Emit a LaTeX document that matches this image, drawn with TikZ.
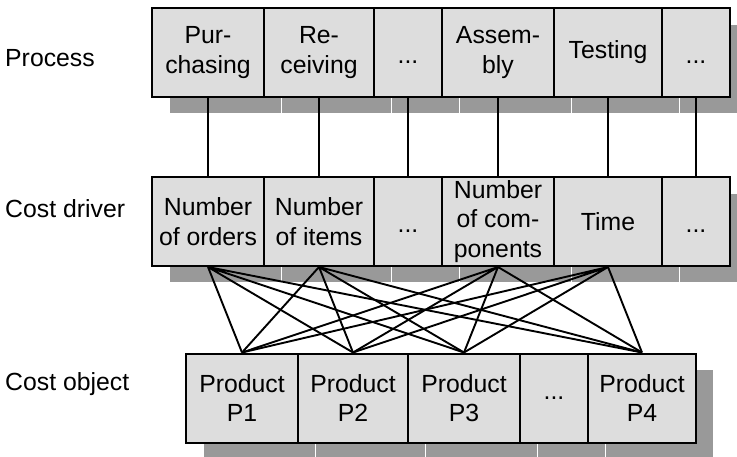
\documentclass[tikz,border=0pt]{standalone}
\usepackage{fontspec}
\setmainfont{Liberation Sans}
\definecolor{cellgray}{HTML}{DDDDDD}
\definecolor{shadegray}{HTML}{999999}
\newcommand{\lowdots}{\smash{\raisebox{-11pt}{...}}}

\begin{document}
\begin{tikzpicture}[x=1pt,y=-1pt,
    font=\fontsize{24.8}{29.3}\selectfont,
    cell/.style={draw,line width=2pt,fill=cellgray,align=center,
        inner sep=0pt,minimum height=89pt,
        preaction={draw=white,line width=1pt,fill=shadegray,
            transform canvas={shift={(17pt,-16pt)}}}},
    rowlabel/.style={anchor=base west,inner sep=0pt},
    link/.style={line width=1.9pt}]
    \useasboundingbox (0,0) rectangle (737,456);

    \node[rowlabel] (lproc) at (5,66) {Process};
    \node[rowlabel] (ldriver) at (5,217) {Cost driver};
    \node[rowlabel] (lobject) at (5,390) {Cost object};

    \node[cell,minimum width=112pt] (p1) at (208,52.5) {Pur-\\chasing};
    \node[cell,minimum width=110pt] (p2) at (319,52.5) {Re-\\ceiving};
    \node[cell,minimum width=68pt] (p3) at (408,52.5) {\lowdots};
    \node[cell,minimum width=112pt] (p4) at (498,52.5) {Assem-\\bly};
    \node[cell,minimum width=108pt] (p5) at (608,52.5) {Testing};
    \node[cell,minimum width=68pt] (p6) at (696,52.5) {\lowdots};

    \node[cell,minimum width=112pt] (d1) at (208,221.5)
        {Number\\of orders};
    \node[cell,minimum width=110pt] (d2) at (319,221.5)
        {Number\\of items};
    \node[cell,minimum width=68pt] (d3) at (408,221.5) {\lowdots};
    \node[cell,minimum width=112pt] (d4) at (498,221.5)
        {Number\\of com-\\ponents};
    \node[cell,minimum width=108pt] (d5) at (608,221.5) {Time};
    \node[cell,minimum width=68pt] (d6) at (696,221.5) {\lowdots};

    \node[cell,minimum width=112pt] (o1) at (242,398) {Product\\P1};
    \node[cell,minimum width=110pt] (o2) at (353,398) {Product\\P2};
    \node[cell,minimum width=112pt] (o3) at (464,398) {Product\\P3};
    \node[cell,minimum width=68pt] (o4) at (554,398) {...};
    \node[cell,minimum width=108pt] (o5) at (642,398) {Product\\P4};

    \draw[link] (p1.south) -- (d1.north);
    \draw[link] (p2.south) -- (d2.north);
    \draw[link] (p3.south) -- (d3.north);
    \draw[link] (p4.south) -- (d4.north);
    \draw[link] (p5.south) -- (d5.north);
    \draw[link] (p6.south) -- (d6.north);

    \draw[link] (d1.south) -- (o1.north) (d1.south) -- (o2.north)
        (d1.south) -- (o3.north) (d1.south) -- (o5.north);
    \draw[link] (d2.south) -- (o1.north) (d2.south) -- (o2.north)
        (d2.south) -- (o3.north) (d2.south) -- (o5.north);
    \draw[link] (d4.south) -- (o1.north) (d4.south) -- (o2.north)
        (d4.south) -- (o3.north) (d4.south) -- (o5.north);
    \draw[link] (d5.south) -- (o1.north) (d5.south) -- (o2.north)
        (d5.south) -- (o3.north) (d5.south) -- (o5.north);
\end{tikzpicture}
\end{document}
